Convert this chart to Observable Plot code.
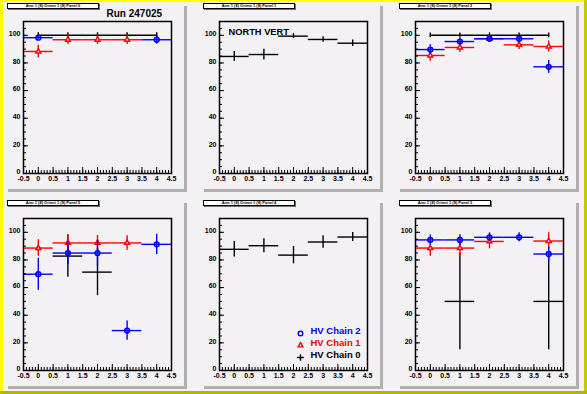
<!DOCTYPE html>
<html><head><meta charset="utf-8">
<script src="https://cdn.jsdelivr.net/npm/d3@7"></script>
<script src="https://cdn.jsdelivr.net/npm/@observablehq/plot@0.6"></script>
<style>
html,body{margin:0;padding:0;background:#f4f1f4;}
#canvas{position:relative;width:587px;height:394px;background:#f4f1f4;overflow:hidden;font-family:"Liberation Sans",Arial,Helvetica,sans-serif;}
.abs{position:absolute;box-sizing:border-box;}
.tbox{background:#ffffff;border:1px solid #000;font-size:4px;font-weight:bold;line-height:4px;text-align:center;white-space:nowrap;overflow:hidden;}
</style></head><body><div id="canvas"></div>
<script>
// ---------------- data ----------------
const xBins = [0, 1, 2, 3, 4];
const binHalfWidth = 0.5;
const xTickValues = [-0.5, 0, 0.5, 1, 1.5, 2, 2.5, 3, 3.5, 4, 4.5];
const xTickLabels = ["-0.5", "0", "0.5", "1", "1.5", "2", "2.5", "3", "3.5", "4", "4.5"];
const yTickValues = [0, 20, 40, 60, 80, 100];
const yTickLabels = ["0", "20", "40", "60", "80", "100"];
const padTitles = [
  "Arm 1 (8) Orient 1 (8) Panel 0", "Arm 1 (8) Orient 1 (8) Panel 1", "Arm 1 (8) Orient 1 (8) Panel 2",
  "Arm 1 (8) Orient 1 (8) Panel 5", "Arm 1 (8) Orient 1 (8) Panel 4", "Arm 1 (8) Orient 1 (8) Panel 3"
];
const runLabel = "Run 247025";
const northLabel = "NORTH VERT";
const legendLabels = ["HV Chain 2", "HV Chain 1", "HV Chain 0"];

// HV Chain 0 (black): efficiency per bin, per panel
const chain0 = [
  [100, 100, 100, 100, 100],
  [84.7, 86.1, 99.4, 97.0, 94.3],
  [100, 100, 100, 100, 100],
  [null, 82.8, 71.2, null, null],
  [87.7, 90.3, 83.5, 93.0, 96.6],
  [null, 50, null, null, 50]
];
const chain0Err = [
  [1.8, 1.8, 1.8, 1.8, 1.8],
  [3.6, 3.9, 1.8, 2.0, 2.4],
  [1.7, 1.7, 1.7, 1.7, 1.7],
  [null, 15.4, 17.0, null, null],
  [5.6, 5.1, 6.3, 4.6, 3.3],
  [null, 35, null, null, 35]
];
// panels where chain 0 is drawn as a connected line
const chain0Connected = [true, false, true, false, false, false];

// HV Chain 1 (red)
const chain1 = [
  [88.3, 96.8, 96.8, 96.8, null],
  [],
  [85.4, 91.2, 97.5, 93.1, 91.9],
  [88.6, 92.3, 92.3, 92.3, null],
  [],
  [88.6, 88.6, 93.4, null, 93.7]
];
const chain1Err = [
  [4.5, 3.4, 3.4, 3.4, null],
  [],
  [4.2, 3.6, 2.0, 3.4, 3.9],
  [6.0, 5.2, 5.5, 5.3, null],
  [],
  [6.0, 6.0, 5.3, null, 6.0]
];

// HV Chain 2 (blue)
const chain2 = [
  [98.3, null, null, null, 96.8],
  [],
  [89.7, 95.5, 97.5, 97.5, 77.2],
  [69.7, 85.0, 85.0, 28.9, 91.3],
  [],
  [94.5, 94.5, 96.4, 96.4, 84.3]
];
const chain2Err = [
  [1.5, null, null, null, 3.0],
  [],
  [3.4, 2.5, 1.5, 1.5, 4.6],
  [11.6, 8.5, 9.5, 7.0, 7.3],
  [],
  [3.6, 3.8, 3.2, 3.2, 5.0]
];

// ---------------- layout ----------------
const BG = "#f4f1f4";
const canvas = document.getElementById("canvas");
function box(x, y, w, h, css) {
  const d = document.createElement("div");
  d.className = "abs";
  d.style.left = x + "px"; d.style.top = y + "px";
  d.style.width = w + "px"; d.style.height = h + "px";
  Object.assign(d.style, css || {});
  canvas.appendChild(d);
  return d;
}
// canvas bevel border
box(0, 0, 3, 394, {background: "#ffff00"});
box(0, 0, 587, 2, {background: "#ffff00"});
box(584, 0, 3, 394, {background: "#c8c800"});
box(0, 391, 587, 3, {background: "#b4b400"});

const colX = [0, 196, 392];
const rowY = [0, 197];

function rows(Y, E, i) {
  return xBins.map((x, j) => ({x, y: (Y[i] || [])[j], e: (E[i] || [])[j]}))
    .filter(d => d.y != null);
}

function panel(i) {
  const marks = [];
  const r0 = rows(chain0, chain0Err, i);
  const r1 = rows(chain1, chain1Err, i);
  const r2 = rows(chain2, chain2Err, i);
  const sw = 1.4;
  // chain 0
  if (chain0Connected[i]) {
    marks.push(Plot.line(r0, {x: "x", y: "y", stroke: "black", strokeWidth: sw}));
  } else {
    marks.push(Plot.ruleY(r0, {y: "y", x1: d => d.x - binHalfWidth, x2: d => d.x + binHalfWidth, stroke: "black", strokeWidth: sw}));
  }
  marks.push(Plot.ruleX(r0, {x: "x", y1: d => d.y - d.e, y2: d => d.y + d.e, stroke: "black", strokeWidth: sw}));
  // chain 1
  marks.push(Plot.ruleY(r1, {y: "y", x1: d => d.x - binHalfWidth, x2: d => d.x + binHalfWidth, stroke: "#ff0000", strokeWidth: sw}));
  marks.push(Plot.ruleX(r1, {x: "x", y1: d => d.y - d.e, y2: d => d.y + d.e, stroke: "#ff0000", strokeWidth: sw}));
  marks.push(Plot.dot(r1, {x: "x", y: "y", symbol: "triangle", r: 1.8, stroke: "#ff0000", strokeWidth: 1.5, fill: BG}));
  // chain 2
  marks.push(Plot.ruleY(r2, {y: "y", x1: d => d.x - binHalfWidth, x2: d => d.x + binHalfWidth, stroke: "#0000ff", strokeWidth: sw}));
  marks.push(Plot.ruleX(r2, {x: "x", y1: d => d.y - d.e, y2: d => d.y + d.e, stroke: "#0000ff", strokeWidth: sw}));
  marks.push(Plot.dot(r2, {x: "x", y: "y", symbol: "circle", r: 2.4, stroke: "#0000ff", strokeWidth: 1.5, fill: "none"}));

  // axes (ROOT style: ticks inside the frame)
  marks.push(Plot.axisX({ticks: d3.range(-0.5, 4.501, 0.1), tickSize: -3, fill: "none", anchor: "bottom"}));
  marks.push(Plot.axisX({ticks: xTickValues, tickSize: -6, fill: "none", anchor: "bottom"}));
  marks.push(Plot.axisX({ticks: xTickValues, tickSize: 0, tickPadding: 2.5, dy: 0.5, anchor: "bottom",
    tickFormat: d => xTickLabels[xTickValues.indexOf(d)], fontSize: 7, fontWeight: "bold", fill: "black"}));
  marks.push(Plot.axisY({ticks: d3.range(0, 110.01, 5), tickSize: -3, fill: "none", anchor: "left"}));
  marks.push(Plot.axisY({ticks: yTickValues, tickSize: -5, fill: "none", anchor: "left"}));
  marks.push(Plot.axisY({ticks: yTickValues, tickSize: 0, tickPadding: 3, dy: -1.5, anchor: "left",
    tickFormat: d => yTickLabels[yTickValues.indexOf(d)], fontSize: 7, fontWeight: "bold", fill: "black"}));
  marks.push(Plot.frame({stroke: "black", strokeWidth: 1.5}));

  if (i === 0) {
    marks.push(Plot.text([runLabel], {frameAnchor: "top-left", dx: 83, dy: -12, textAnchor: "start",
      fontSize: 10, fontWeight: "bold", fill: "black"}));
  }
  if (i === 1) {
    marks.push(Plot.text([northLabel], {frameAnchor: "top-left", dx: 9, dy: 7, textAnchor: "start",
      fontSize: 9.3, fontWeight: "bold", fill: "black"}));
  }
  if (i === 4) {
    const colors = ["#0000ff", "#ff0000", "black"];
    const symbols = ["circle", "triangle", "plus"];
    const dys = [-37, -25, -13];
    legendLabels.forEach((lab, k) => {
      marks.push(Plot.dot([lab], {frameAnchor: "bottom-left", dx: 81, dy: dys[k], symbol: symbols[k],
        r: k === 1 ? 1.8 : 2.3, stroke: colors[k], strokeWidth: 1.4, fill: "none"}));
      marks.push(Plot.text([lab], {frameAnchor: "bottom-left", dx: 91, dy: dys[k], textAnchor: "start",
        fontSize: 9.5, fontWeight: "bold", fill: colors[k]}));
    });
  }

  return Plot.plot({
    width: 196, height: 197,
    marginLeft: 23, marginRight: 25, marginTop: 21, marginBottom: 24,
    x: {domain: [-0.5, 4.5], label: null},
    y: {domain: [0, 110], label: null},
    style: {background: "transparent", overflow: "visible", fontFamily: "'Liberation Sans', Arial, Helvetica, sans-serif"},
    marks
  });
}

for (let i = 0; i < 6; i++) {
  const c = i % 3, r = Math.floor(i / 3);
  const ox = colX[c], oy = rowY[r];
  // pad shadows
  box(ox + 184, oy + 6, 3, 186, {background: "#b0b0b0"});
  box(ox + 8, oy + 189, 179, 3, {background: "#b0b0b0"});
  // pad title box with shadow
  box(ox + 8, oy + 4, 92, 6, {background: "#707070"});
  const t = box(ox + 7, oy + 3, 92, 6, {});
  t.className = "abs tbox";
  t.textContent = padTitles[i];
  // plot
  const svg = panel(i);
  const holder = box(ox, oy, 196, 197, {});
  holder.appendChild(svg);
}
</script></body></html>
